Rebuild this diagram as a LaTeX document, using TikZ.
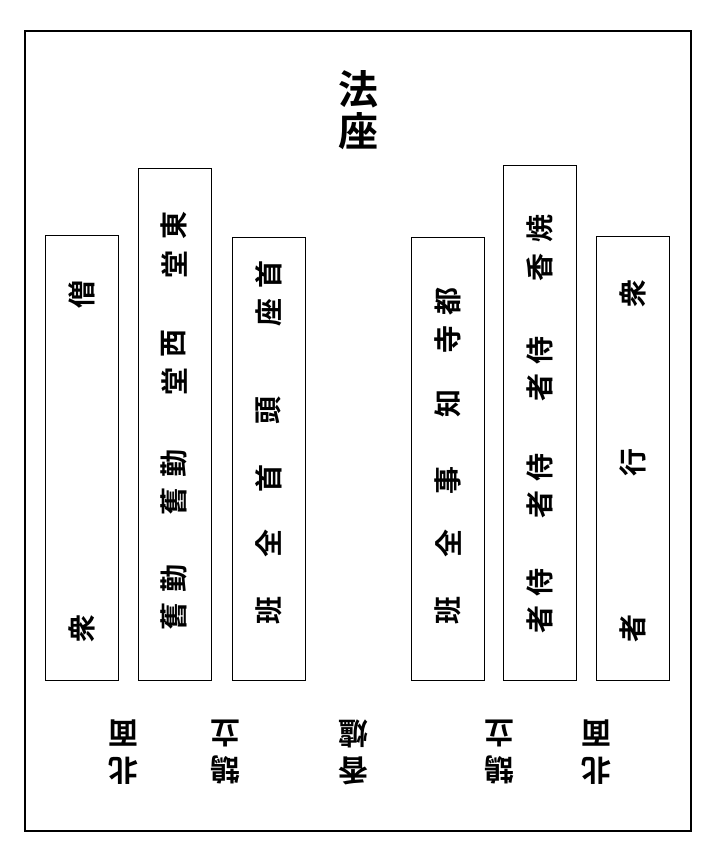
\documentclass[tikz,border=0pt]{standalone}
\usepackage{fontspec}
\newfontfamily\jp{Noto Sans CJK JP}[BoldFont={Noto Sans CJK JP Bold}]

\begin{document}
\begin{tikzpicture}[x=1pt, y=-1pt]
  \tikzset{
    col/.style={draw, line width=1.3pt, minimum width=73pt, anchor=north west, inner sep=0pt},
    ch/.style={font=\jp\bfseries\fontsize{28}{28}\selectfont, inner sep=0pt, rotate=90},
    title/.style={font=\jp\bfseries\fontsize{40}{42}\selectfont, align=center, inner sep=0pt},
    foot/.style={font=\jp\bfseries\fontsize{30}{37}\selectfont, align=center, inner sep=0pt, rotate=180}
  }
  \useasboundingbox (0,0) rectangle (717,858);
  \node[draw, line width=2pt, minimum width=666pt, minimum height=800pt, anchor=north west, inner sep=0pt] (hall) at (24,30) {};
  \node[title] (hoza) at (358,110) {法\\座};
  % west side
  \node[col, minimum height=445pt] (sodo) at (45,235) {};
  \node[col, minimum height=512pt] (todo) at (138,168) {};
  \node[col, minimum height=443pt] (choshu) at (232,237) {};
  % east side
  \node[col, minimum height=443pt] (chiji) at (411,237) {};
  \node[col, minimum height=515pt] (jisha) at (503,165) {};
  \node[col, minimum height=444pt] (anja) at (596,236) {};
  % names in the rows
  \node[ch] (so1) at (81.5,294) {僧};
  \node[ch] (so2) at (81.5,628) {衆};
  \node[ch] (to1) at (174,226) {東};
  \node[ch] (to2) at (174,264) {堂};
  \node[ch] (to3) at (174,343) {西};
  \node[ch] (to4) at (174,381) {堂};
  \node[ch] (to5) at (174,463) {勤};
  \node[ch] (to6) at (174,501) {舊};
  \node[ch] (to7) at (174,578) {勤};
  \node[ch] (to8) at (174,616) {舊};
  \node[ch] (cs1) at (268.5,274) {首};
  \node[ch] (cs2) at (268.5,312) {座};
  \node[ch] (cs3) at (268.5,410) {頭};
  \node[ch] (cs4) at (268.5,478) {首};
  \node[ch] (cs5) at (268.5,543) {全};
  \node[ch] (cs6) at (268.5,610) {班};
  \node[ch] (cj1) at (448,301) {都};
  \node[ch] (cj2) at (448,339) {寺};
  \node[ch] (cj3) at (448,403) {知};
  \node[ch] (cj4) at (448,480) {事};
  \node[ch] (cj5) at (448,543) {全};
  \node[ch] (cj6) at (448,610) {班};
  \node[ch] (js1) at (539.5,229) {焼};
  \node[ch] (js2) at (539.5,267) {香};
  \node[ch] (js3) at (539.5,350) {侍};
  \node[ch] (js4) at (539.5,387) {者};
  \node[ch] (js5) at (539.5,467) {侍};
  \node[ch] (js6) at (539.5,504) {者};
  \node[ch] (js7) at (539.5,582) {侍};
  \node[ch] (js8) at (539.5,619) {者};
  \node[ch] (an1) at (633,293) {衆};
  \node[ch] (an2) at (633,462) {行};
  \node[ch] (an3) at (633,628) {者};
  % labels below the rows
  \node[foot] (f1) at (123,752) {北\\面};
  \node[foot] (f2) at (225,752) {鵠\\立};
  \node[foot] (f3) at (353,752) {香\\爐};
  \node[foot] (f4) at (499,752) {鵠\\立};
  \node[foot] (f5) at (596,752) {北\\面};
\end{tikzpicture}
\end{document}
